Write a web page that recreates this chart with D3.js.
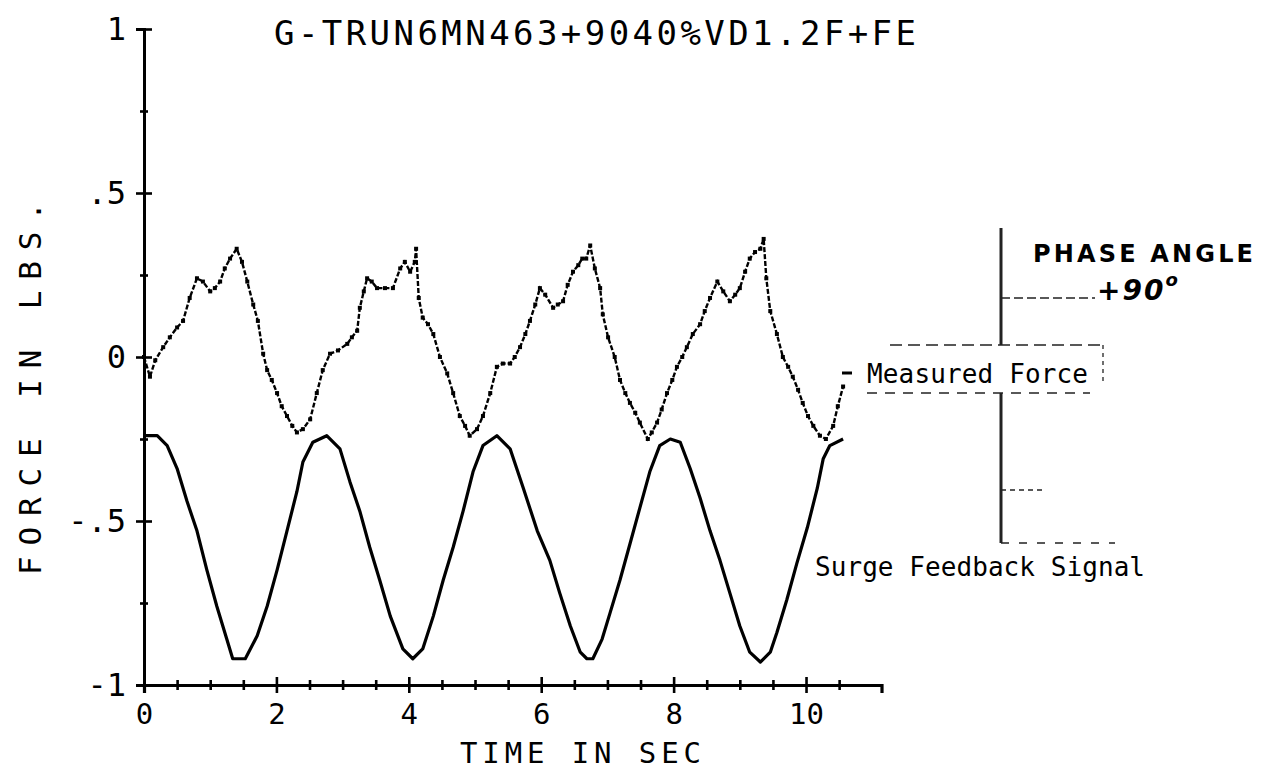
<!DOCTYPE html>
<html>
<head>
<meta charset="utf-8">
<script src="https://cdn.jsdelivr.net/npm/d3@7"></script>
<style>
  html, body { margin: 0; padding: 0; background: #fff; }
  svg { display: block; }
</style>
</head>
<body>
<svg id="chart" width="1273" height="773"></svg>
<script>
// ---------------- data ----------------
const chartTitle = "G-TRUN6MN463+9040%VD1.2F+FE";
const xAxisTitle = "TIME IN SEC";
const yAxisTitle = "FORCE IN LBS.";

const xLabelValues = [0, 2, 4, 6, 8, 10];
const xLabelTexts  = ["0", "2", "4", "6", "8", "10"];
const yLabelValues = [1, 0.5, 0, -0.5, -1];
const yLabelTexts  = ["1", ".5", "0", "-.5", "-1"];

// Surge feedback signal (smooth wave)
const surgeTime = [0, 0.20, 0.35, 0.50, 0.65, 0.80, 0.95, 1.10, 1.25, 1.34, 1.53, 1.71, 1.86, 2.01, 2.16, 2.31, 2.40, 2.55, 2.76,
  2.96, 3.11, 3.26, 3.41, 3.56, 3.72, 3.91, 4.06, 4.21, 4.37, 4.52, 4.67, 4.82, 4.97, 5.12, 5.33,
  5.53, 5.73, 5.94, 6.13, 6.28, 6.44, 6.59, 6.69, 6.78, 6.92, 7.04, 7.19, 7.34, 7.49, 7.64, 7.79, 7.95,
  8.10, 8.25, 8.40, 8.55, 8.70, 8.85, 9.00, 9.15, 9.31, 9.46, 9.56, 9.71, 9.86, 10.02, 10.17, 10.26, 10.36, 10.56];
const surgeForce = [-0.24, -0.24, -0.27, -0.34, -0.44, -0.53, -0.65, -0.76, -0.86, -0.92, -0.92, -0.85, -0.76, -0.65, -0.53, -0.41, -0.32, -0.26, -0.24,
  -0.28, -0.38, -0.47, -0.58, -0.68, -0.79, -0.89, -0.92, -0.89, -0.79, -0.68, -0.58, -0.47, -0.35, -0.27, -0.24,
  -0.28, -0.40, -0.53, -0.62, -0.72, -0.82, -0.90, -0.92, -0.92, -0.86, -0.78, -0.68, -0.57, -0.46, -0.35, -0.27, -0.25,
  -0.26, -0.34, -0.43, -0.53, -0.62, -0.72, -0.82, -0.90, -0.93, -0.90, -0.84, -0.74, -0.63, -0.52, -0.40, -0.31, -0.27, -0.25];

// Measured force (noisy trace)
const measTime = [0, 0.09, 0.17, 0.29, 0.39, 0.50, 0.59, 0.69, 0.80, 0.89, 1.00, 1.07, 1.15, 1.22, 1.30, 1.40,
  1.48, 1.56, 1.65, 1.72, 1.80, 1.86, 1.93, 2.01, 2.08, 2.16, 2.24, 2.31,
  2.40, 2.51, 2.61, 2.70, 2.81, 2.93, 3.07, 3.14, 3.22, 3.26, 3.32, 3.37, 3.44, 3.52, 3.64, 3.76, 3.87, 3.94, 4.02, 4.09, 4.11,
  4.15, 4.21, 4.29, 4.37, 4.47, 4.58, 4.67, 4.77, 4.85, 4.92,
  5.03, 5.12, 5.23, 5.33, 5.42, 5.53, 5.60, 5.68, 5.76, 5.83, 5.91, 5.98, 6.06, 6.18, 6.25, 6.33, 6.40, 6.48, 6.56, 6.62, 6.68, 6.74,
  6.81, 6.89, 6.93, 7.01, 7.11, 7.19, 7.27, 7.34, 7.42, 7.49, 7.61,
  7.67, 7.75, 7.82, 7.90, 7.98, 8.05, 8.13, 8.20, 8.29, 8.40, 8.47, 8.55, 8.66, 8.75, 8.85, 8.93, 9.00, 9.08, 9.15, 9.23, 9.31, 9.36,
  9.40, 9.46, 9.56, 9.65, 9.73, 9.80, 9.88, 9.95, 10.03, 10.11, 10.21, 10.30,
  10.41, 10.48, 10.56];
const measForce = [0.00, -0.06, -0.01, 0.03, 0.06, 0.09, 0.11, 0.18, 0.24, 0.23, 0.20, 0.21, 0.23, 0.27, 0.30, 0.33,
  0.29, 0.23, 0.16, 0.11, 0.01, -0.04, -0.07, -0.11, -0.15, -0.18, -0.21, -0.23,
  -0.22, -0.19, -0.11, -0.04, 0.01, 0.02, 0.04, 0.06, 0.08, 0.15, 0.20, 0.24, 0.23, 0.21, 0.21, 0.21, 0.27, 0.29, 0.26, 0.29, 0.33,
  0.18, 0.12, 0.10, 0.07, 0.00, -0.05, -0.11, -0.18, -0.21, -0.24,
  -0.22, -0.18, -0.11, -0.03, -0.02, -0.02, 0.00, 0.03, 0.07, 0.11, 0.16, 0.21, 0.19, 0.15, 0.16, 0.17, 0.22, 0.26, 0.28, 0.30, 0.30, 0.34,
  0.27, 0.21, 0.13, 0.06, 0.00, -0.07, -0.11, -0.14, -0.17, -0.20, -0.25,
  -0.23, -0.20, -0.16, -0.11, -0.07, -0.03, 0.00, 0.03, 0.07, 0.10, 0.14, 0.18, 0.23, 0.20, 0.17, 0.19, 0.21, 0.26, 0.30, 0.32, 0.33, 0.36,
  0.24, 0.14, 0.07, 0.00, -0.03, -0.06, -0.10, -0.14, -0.18, -0.21, -0.24, -0.25,
  -0.21, -0.15, -0.09];

const annotations = ["Measured Force", "Surge Feedback Signal"];
const phaseTexts = ["PHASE ANGLE", "+90"];

// ---------------- drawing ----------------
const svg = d3.select("#chart");
const mono = "DejaVu Sans Mono, Liberation Mono, monospace";

const x = d3.scaleLinear().domain([0, 11.14]).range([144, 881.5]);
const y = d3.scaleLinear().domain([-1, 1]).range([685, 29]);

const isMajorX = d => xLabelValues.some(v => Math.abs(v - d) < 1e-6);
const isMajorY = d => yLabelValues.some(v => Math.abs(v - d) < 1e-6);

// X axis
const xTicks = d3.range(0, 10.51, 0.5);
const xAxis = d3.axisBottom(x)
  .tickValues(xTicks)
  .tickSizeOuter(0)
  .tickSize(8)
  .tickPadding(10)
  .tickFormat(d => { const i = xLabelValues.findIndex(v => Math.abs(v - d) < 1e-6); return i >= 0 ? xLabelTexts[i] : ""; });
const gx = svg.append("g").attr("transform", `translate(0,${y(-1)})`).call(xAxis);
gx.select(".domain").attr("stroke", "#000").attr("stroke-width", 3.2);
gx.selectAll(".tick line")
  .attr("stroke", "#000").attr("stroke-width", 2.6)
  .attr("y1", d => isMajorX(d) ? -8 : -5)
  .attr("y2", d => isMajorX(d) ? 8 : 5);
gx.selectAll(".tick text").attr("font-family", mono).attr("font-size", 29).attr("fill", "#000");

// Y axis
const yTicks = d3.range(-1, 1.01, 0.25);
const yAxis = d3.axisLeft(y)
  .tickValues(yTicks)
  .tickSizeOuter(0)
  .tickSize(8)
  .tickPadding(10)
  .tickFormat(d => { const i = yLabelValues.findIndex(v => Math.abs(v - d) < 1e-6); return i >= 0 ? yLabelTexts[i] : ""; });
const gy = svg.append("g").attr("transform", `translate(${x(0)},0)`).call(yAxis);
gy.select(".domain").attr("stroke", "#000").attr("stroke-width", 3);
gy.selectAll(".tick line")
  .attr("stroke", "#000").attr("stroke-width", 2.6)
  .attr("x1", d => isMajorY(d) ? -8 : -4)
  .attr("x2", d => isMajorY(d) ? 8 : 4);
gy.selectAll(".tick text").attr("font-family", mono).attr("font-size", 32).attr("fill", "#000");

// Title
svg.append("text")
  .attr("x", 274).attr("y", 45)
  .attr("font-family", mono).attr("font-size", 34)
  .attr("textLength", 642).attr("lengthAdjust", "spacing")
  .text(chartTitle);

// Axis titles
svg.append("text")
  .attr("x", 460).attr("y", 763)
  .attr("font-family", mono).attr("font-size", 29)
  .attr("textLength", 241).attr("lengthAdjust", "spacing")
  .text(xAxisTitle);

svg.append("text")
  .attr("transform", "translate(41,575) rotate(-90)")
  .attr("x", 0).attr("y", 0)
  .attr("font-family", mono).attr("font-size", 31)
  .attr("textLength", 373).attr("lengthAdjust", "spacing")
  .text(yAxisTitle);

// Series
const surge = d3.zip(surgeTime, surgeForce);
const meas = d3.zip(measTime, measForce);
const line = d3.line().x(d => x(d[0])).y(d => y(d[1]));

svg.append("path").datum(surge)
  .attr("fill", "none").attr("stroke", "#000").attr("stroke-width", 3.2)
  .attr("stroke-linejoin", "round")
  .attr("d", line);

svg.append("path").datum(meas)
  .attr("fill", "none").attr("stroke", "#000").attr("stroke-width", 2.4)
  .attr("stroke-dasharray", "5 2")
  .attr("d", line);

svg.append("g").selectAll("rect").data(meas).join("rect")
  .attr("x", d => x(d[0]) - 2).attr("y", d => y(d[1]) - 2)
  .attr("width", 4).attr("height", 4).attr("fill", "#000");

// Pasted-label artifacts on the right
const art = svg.append("g").attr("stroke", "#222").attr("fill", "none");
art.append("line").attr("x1", 1001).attr("x2", 1001).attr("y1", 228).attr("y2", 345).attr("stroke-width", 3);
art.append("line").attr("x1", 1001).attr("x2", 1001).attr("y1", 393).attr("y2", 543).attr("stroke-width", 3);
art.append("line").attr("x1", 1001).attr("x2", 1095).attr("y1", 298).attr("y2", 298).attr("stroke-width", 1.3).attr("stroke-dasharray", "9 4");
art.append("line").attr("x1", 890).attr("x2", 1103).attr("y1", 345).attr("y2", 345).attr("stroke-width", 1.3).attr("stroke-dasharray", "12 6");
art.append("line").attr("x1", 1103).attr("x2", 1103).attr("y1", 345).attr("y2", 382).attr("stroke-width", 1.3).attr("stroke-dasharray", "4 4");
art.append("line").attr("x1", 867).attr("x2", 1090).attr("y1", 393).attr("y2", 393).attr("stroke-width", 1.3).attr("stroke-dasharray", "10 8");
art.append("line").attr("x1", 1001).attr("x2", 1045).attr("y1", 490).attr("y2", 490).attr("stroke-width", 1.3).attr("stroke-dasharray", "5 4");
art.append("line").attr("x1", 1001).attr("x2", 1115).attr("y1", 543).attr("y2", 543).attr("stroke-width", 1.3).attr("stroke-dasharray", "8 10");

// Annotation labels
svg.append("line").attr("x1", 842).attr("x2", 852).attr("y1", 373).attr("y2", 373).attr("stroke", "#000").attr("stroke-width", 3);
svg.append("text")
  .attr("x", 867).attr("y", 383)
  .attr("font-family", mono).attr("font-size", 26)
  .attr("textLength", 221).attr("lengthAdjust", "spacing")
  .text(annotations[0]);
svg.append("text")
  .attr("x", 815).attr("y", 576)
  .attr("font-family", mono).attr("font-size", 26)
  .attr("textLength", 330).attr("lengthAdjust", "spacing")
  .text(annotations[1]);

// Handwritten phase note
svg.append("text")
  .attr("x", 1033).attr("y", 262)
  .attr("font-family", "DejaVu Sans, sans-serif").attr("font-weight", "bold")
  .attr("font-size", 24)
  .attr("textLength", 220).attr("lengthAdjust", "spacing")
  .text(phaseTexts[0]);
const pa = svg.append("text")
  .attr("x", 1097).attr("y", 300)
  .attr("font-family", "DejaVu Sans, sans-serif").attr("font-weight", "bold")
  .attr("font-style", "italic")
  .attr("font-size", 28)
  .attr("letter-spacing", 2);
pa.append("tspan").text(phaseTexts[1]);
pa.append("tspan").attr("dy", -14).attr("font-size", 18).text("o");
</script>
</body>
</html>
